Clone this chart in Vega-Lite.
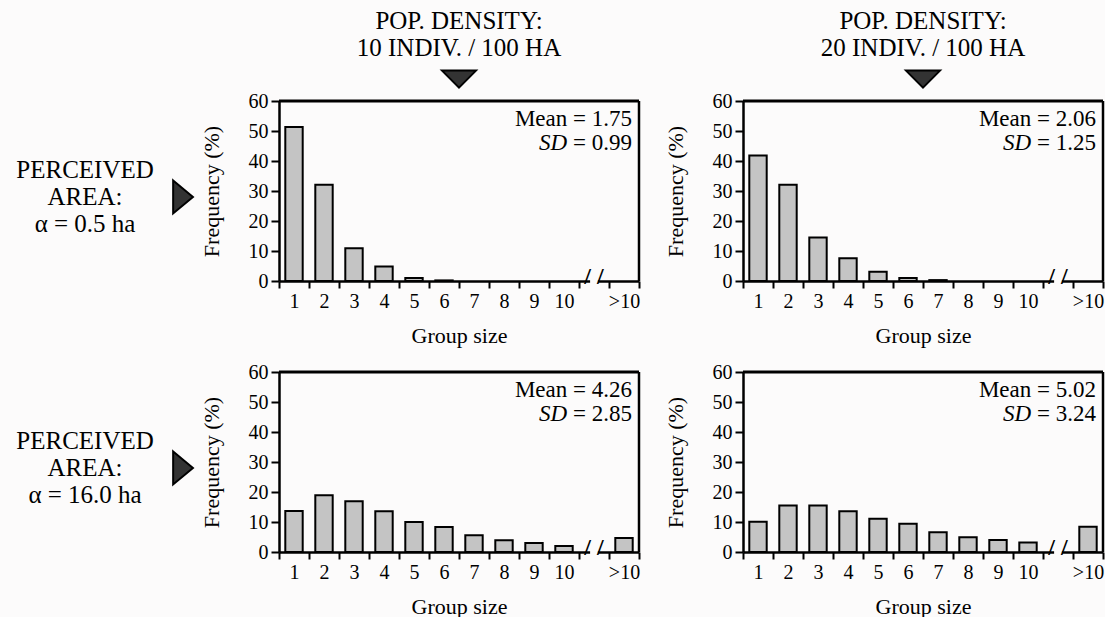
{
  "$schema": "https://vega.github.io/schema/vega-lite/v6.json",
  "background": "#fcfbfb",
  "padding": {"left": 0, "top": 8, "right": 0, "bottom": 0},
  "datasets": {
    "bars": [
      {"panel": "A", "size": "1", "freq": 51.3},
      {"panel": "A", "size": "2", "freq": 32.1},
      {"panel": "A", "size": "3", "freq": 10.9},
      {"panel": "A", "size": "4", "freq": 4.8},
      {"panel": "A", "size": "5", "freq": 1.0},
      {"panel": "A", "size": "6", "freq": 0.2},
      {"panel": "B", "size": "1", "freq": 41.8},
      {"panel": "B", "size": "2", "freq": 32.1},
      {"panel": "B", "size": "3", "freq": 14.5},
      {"panel": "B", "size": "4", "freq": 7.6},
      {"panel": "B", "size": "5", "freq": 3.1},
      {"panel": "B", "size": "6", "freq": 1.0},
      {"panel": "B", "size": "7", "freq": 0.3},
      {"panel": "C", "size": "1", "freq": 13.7},
      {"panel": "C", "size": "2", "freq": 18.9},
      {"panel": "C", "size": "3", "freq": 16.9},
      {"panel": "C", "size": "4", "freq": 13.6},
      {"panel": "C", "size": "5", "freq": 10.0},
      {"panel": "C", "size": "6", "freq": 8.3},
      {"panel": "C", "size": "7", "freq": 5.6},
      {"panel": "C", "size": "8", "freq": 3.9},
      {"panel": "C", "size": "9", "freq": 3.0},
      {"panel": "C", "size": "10", "freq": 2.0},
      {"panel": "C", "size": ">10", "freq": 4.7},
      {"panel": "D", "size": "1", "freq": 10.1},
      {"panel": "D", "size": "2", "freq": 15.5},
      {"panel": "D", "size": "3", "freq": 15.5},
      {"panel": "D", "size": "4", "freq": 13.6},
      {"panel": "D", "size": "5", "freq": 11.1},
      {"panel": "D", "size": "6", "freq": 9.4},
      {"panel": "D", "size": "7", "freq": 6.6},
      {"panel": "D", "size": "8", "freq": 4.9},
      {"panel": "D", "size": "9", "freq": 4.0},
      {"panel": "D", "size": "10", "freq": 3.2},
      {"panel": "D", "size": ">10", "freq": 8.4}
    ],
    "stats": [
      {"panel": "A", "mean": "Mean = 1.75", "sd": "= 0.99"},
      {"panel": "B", "mean": "Mean = 2.06", "sd": "= 1.25"},
      {"panel": "C", "mean": "Mean = 4.26", "sd": "= 2.85"},
      {"panel": "D", "mean": "Mean = 5.02", "sd": "= 3.24"}
    ],
    "rowlabels": [
      {"row": 1, "label": "PERCEIVED\nAREA:\nα = 0.5 ha"},
      {"row": 2, "label": "PERCEIVED\nAREA:\nα = 16.0 ha"}
    ]
  },
  "bounds": "flush",
  "columns": 3,
  "spacing": {"row": 91, "column": 104},
  "concat": [
    {
      "width": 175, "height": 180,
      "data": {"name": "rowlabels"},
      "transform": [{"filter": "datum.row === 1"}],
      "layer": [
        {"mark": {"type": "text", "lineBreak": "\n", "fontSize": 25, "lineHeight": 27, "align": "center", "baseline": "middle", "color": "black"},
         "encoding": {"x": {"datum": 0.486, "type": "quantitative", "scale": {"domain": [0, 1]}, "axis": null},
                      "y": {"datum": 0.617, "type": "quantitative", "scale": {"domain": [0, 1]}, "axis": null},
                      "text": {"field": "label"}}},
        {"mark": {"type": "point", "shape": "M -0.6 -1 L 0.6 0 L -0.6 1 Z", "filled": true, "fill": "#333", "stroke": "black", "strokeWidth": 2, "size": 1089, "opacity": 1},
         "encoding": {"x": {"datum": 1.046, "type": "quantitative"}, "y": {"datum": 0.467, "type": "quantitative"}}}
      ]
    },
    {
      "width": 360, "height": 180,
      "title": {"text": ["POP. DENSITY:", "10 INDIV. / 100 HA"]},
      "layer": [
        {"data": {"name": "bars"}, "transform": [{"filter": "datum.panel === 'A'"}],
         "mark": {"type": "bar", "width": {"band": 0.58}, "fill": "#c4c4c4", "stroke": "black", "strokeWidth": 2},
         "encoding": {
           "x": {"field": "size", "type": "ordinal", "title": "Group size", "scale": {"domain": ["1","2","3","4","5","6","7","8","9","10","gap",">10"], "paddingInner": 0, "paddingOuter": 0}, "axis": {"tickBand": "extent", "labelExpr": "datum.value === 'gap' ? '' : datum.value"}},
           "y": {"field": "freq", "type": "quantitative", "title": "Frequency (%)", "scale": {"domain": [0, 60]}, "axis": {"values": [0,10,20,30,40,50,60], "labelOverlap": false}}}},
        {"data": {"values": [{}]}, "mark": {"type": "bar", "width": {"band": 0.26}, "fill": "#fcfbfb"},
         "encoding": {"x": {"datum": "gap", "type": "ordinal"}, "y": {"datum": -1.4, "type": "quantitative", "axis": {"values": [0,10,20,30,40,50,60], "labelOverlap": false}}, "y2": {"datum": 1.4}}},
        {"data": {"values": [{}]}, "mark": {"type": "text", "text": "/ /", "fontSize": 24, "fontWeight": "bold", "baseline": "middle", "color": "black"},
         "encoding": {"x": {"datum": "gap", "type": "ordinal"}, "y": {"datum": 1.3, "type": "quantitative", "axis": {"values": [0,10,20,30,40,50,60], "labelOverlap": false}}}},
        {"data": {"values": [{}]}, "mark": {"type": "rule", "strokeWidth": 3, "color": "black"},
         "encoding": {"y": {"datum": 60, "type": "quantitative", "axis": {"values": [0,10,20,30,40,50,60], "labelOverlap": false}}}},
        {"data": {"values": [{}]}, "mark": {"type": "rule", "strokeWidth": 2.5, "color": "black"},
         "encoding": {"x": {"datum": ">10", "type": "ordinal", "bandPosition": 1}}},
        {"data": {"name": "stats"}, "transform": [{"filter": "datum.panel === 'A'"}],
         "mark": {"type": "text", "align": "right", "baseline": "middle", "fontSize": 23, "dx": -7, "color": "black"},
         "encoding": {"x": {"datum": ">10", "type": "ordinal", "bandPosition": 1}, "y": {"datum": 54, "type": "quantitative", "axis": {"values": [0,10,20,30,40,50,60], "labelOverlap": false}}, "text": {"field": "mean"}}},
        {"data": {"name": "stats"}, "transform": [{"filter": "datum.panel === 'A'"}],
         "mark": {"type": "text", "align": "right", "baseline": "middle", "fontSize": 23, "dx": -7, "color": "black"},
         "encoding": {"x": {"datum": ">10", "type": "ordinal", "bandPosition": 1}, "y": {"datum": 46, "type": "quantitative", "axis": {"values": [0,10,20,30,40,50,60], "labelOverlap": false}}, "text": {"field": "sd"}}},
        {"data": {"name": "stats"}, "transform": [{"filter": "datum.panel === 'A'"}],
         "mark": {"type": "text", "text": "SD", "fontStyle": "italic", "align": "right", "baseline": "middle", "fontSize": 23, "dx": -72, "color": "black"},
         "encoding": {"x": {"datum": ">10", "type": "ordinal", "bandPosition": 1}, "y": {"datum": 46, "type": "quantitative", "axis": {"values": [0,10,20,30,40,50,60], "labelOverlap": false}}}},
        {"data": {"values": [{}]},
         "mark": {"type": "point", "shape": "M -1 -0.5 L 1 -0.5 L 0 0.5 Z", "filled": true, "fill": "#333", "stroke": "black", "strokeWidth": 2, "size": 1156, "opacity": 1},
         "encoding": {"x": {"datum": "7", "type": "ordinal", "bandPosition": 0}, "y": {"datum": 67.3, "type": "quantitative", "axis": {"values": [0,10,20,30,40,50,60], "labelOverlap": false}}}}
      ]
    },
    {
      "width": 360, "height": 180,
      "title": {"text": ["POP. DENSITY:", "20 INDIV. / 100 HA"]},
      "layer": [
        {"data": {"name": "bars"}, "transform": [{"filter": "datum.panel === 'B'"}],
         "mark": {"type": "bar", "width": {"band": 0.58}, "fill": "#c4c4c4", "stroke": "black", "strokeWidth": 2},
         "encoding": {
           "x": {"field": "size", "type": "ordinal", "title": "Group size", "scale": {"domain": ["1","2","3","4","5","6","7","8","9","10","gap",">10"], "paddingInner": 0, "paddingOuter": 0}, "axis": {"tickBand": "extent", "labelExpr": "datum.value === 'gap' ? '' : datum.value"}},
           "y": {"field": "freq", "type": "quantitative", "title": "Frequency (%)", "scale": {"domain": [0, 60]}, "axis": {"values": [0,10,20,30,40,50,60], "labelOverlap": false}}}},
        {"data": {"values": [{}]}, "mark": {"type": "bar", "width": {"band": 0.26}, "fill": "#fcfbfb"},
         "encoding": {"x": {"datum": "gap", "type": "ordinal"}, "y": {"datum": -1.4, "type": "quantitative", "axis": {"values": [0,10,20,30,40,50,60], "labelOverlap": false}}, "y2": {"datum": 1.4}}},
        {"data": {"values": [{}]}, "mark": {"type": "text", "text": "/ /", "fontSize": 24, "fontWeight": "bold", "baseline": "middle", "color": "black"},
         "encoding": {"x": {"datum": "gap", "type": "ordinal"}, "y": {"datum": 1.3, "type": "quantitative", "axis": {"values": [0,10,20,30,40,50,60], "labelOverlap": false}}}},
        {"data": {"values": [{}]}, "mark": {"type": "rule", "strokeWidth": 3, "color": "black"},
         "encoding": {"y": {"datum": 60, "type": "quantitative", "axis": {"values": [0,10,20,30,40,50,60], "labelOverlap": false}}}},
        {"data": {"values": [{}]}, "mark": {"type": "rule", "strokeWidth": 2.5, "color": "black"},
         "encoding": {"x": {"datum": ">10", "type": "ordinal", "bandPosition": 1}}},
        {"data": {"name": "stats"}, "transform": [{"filter": "datum.panel === 'B'"}],
         "mark": {"type": "text", "align": "right", "baseline": "middle", "fontSize": 23, "dx": -7, "color": "black"},
         "encoding": {"x": {"datum": ">10", "type": "ordinal", "bandPosition": 1}, "y": {"datum": 54, "type": "quantitative", "axis": {"values": [0,10,20,30,40,50,60], "labelOverlap": false}}, "text": {"field": "mean"}}},
        {"data": {"name": "stats"}, "transform": [{"filter": "datum.panel === 'B'"}],
         "mark": {"type": "text", "align": "right", "baseline": "middle", "fontSize": 23, "dx": -7, "color": "black"},
         "encoding": {"x": {"datum": ">10", "type": "ordinal", "bandPosition": 1}, "y": {"datum": 46, "type": "quantitative", "axis": {"values": [0,10,20,30,40,50,60], "labelOverlap": false}}, "text": {"field": "sd"}}},
        {"data": {"name": "stats"}, "transform": [{"filter": "datum.panel === 'B'"}],
         "mark": {"type": "text", "text": "SD", "fontStyle": "italic", "align": "right", "baseline": "middle", "fontSize": 23, "dx": -72, "color": "black"},
         "encoding": {"x": {"datum": ">10", "type": "ordinal", "bandPosition": 1}, "y": {"datum": 46, "type": "quantitative", "axis": {"values": [0,10,20,30,40,50,60], "labelOverlap": false}}}},
        {"data": {"values": [{}]},
         "mark": {"type": "point", "shape": "M -1 -0.5 L 1 -0.5 L 0 0.5 Z", "filled": true, "fill": "#333", "stroke": "black", "strokeWidth": 2, "size": 1156, "opacity": 1},
         "encoding": {"x": {"datum": "7", "type": "ordinal", "bandPosition": 0}, "y": {"datum": 67.3, "type": "quantitative", "axis": {"values": [0,10,20,30,40,50,60], "labelOverlap": false}}}}
      ]
    },
    {
      "width": 175, "height": 180,
      "data": {"name": "rowlabels"},
      "transform": [{"filter": "datum.row === 2"}],
      "layer": [
        {"mark": {"type": "text", "lineBreak": "\n", "fontSize": 25, "lineHeight": 27, "align": "center", "baseline": "middle", "color": "black"},
         "encoding": {"x": {"datum": 0.486, "type": "quantitative", "scale": {"domain": [0, 1]}, "axis": null},
                      "y": {"datum": 0.617, "type": "quantitative", "scale": {"domain": [0, 1]}, "axis": null},
                      "text": {"field": "label"}}},
        {"mark": {"type": "point", "shape": "M -0.6 -1 L 0.6 0 L -0.6 1 Z", "filled": true, "fill": "#333", "stroke": "black", "strokeWidth": 2, "size": 1089, "opacity": 1},
         "encoding": {"x": {"datum": 1.046, "type": "quantitative"}, "y": {"datum": 0.467, "type": "quantitative"}}}
      ]
    },
    {
      "width": 360, "height": 180,
      "layer": [
        {"data": {"name": "bars"}, "transform": [{"filter": "datum.panel === 'C'"}],
         "mark": {"type": "bar", "width": {"band": 0.58}, "fill": "#c4c4c4", "stroke": "black", "strokeWidth": 2},
         "encoding": {
           "x": {"field": "size", "type": "ordinal", "title": "Group size", "scale": {"domain": ["1","2","3","4","5","6","7","8","9","10","gap",">10"], "paddingInner": 0, "paddingOuter": 0}, "axis": {"tickBand": "extent", "labelExpr": "datum.value === 'gap' ? '' : datum.value"}},
           "y": {"field": "freq", "type": "quantitative", "title": "Frequency (%)", "scale": {"domain": [0, 60]}, "axis": {"values": [0,10,20,30,40,50,60], "labelOverlap": false}}}},
        {"data": {"values": [{}]}, "mark": {"type": "bar", "width": {"band": 0.26}, "fill": "#fcfbfb"},
         "encoding": {"x": {"datum": "gap", "type": "ordinal"}, "y": {"datum": -1.4, "type": "quantitative", "axis": {"values": [0,10,20,30,40,50,60], "labelOverlap": false}}, "y2": {"datum": 1.4}}},
        {"data": {"values": [{}]}, "mark": {"type": "text", "text": "/ /", "fontSize": 24, "fontWeight": "bold", "baseline": "middle", "color": "black"},
         "encoding": {"x": {"datum": "gap", "type": "ordinal"}, "y": {"datum": 1.3, "type": "quantitative", "axis": {"values": [0,10,20,30,40,50,60], "labelOverlap": false}}}},
        {"data": {"values": [{}]}, "mark": {"type": "rule", "strokeWidth": 3, "color": "black"},
         "encoding": {"y": {"datum": 60, "type": "quantitative", "axis": {"values": [0,10,20,30,40,50,60], "labelOverlap": false}}}},
        {"data": {"values": [{}]}, "mark": {"type": "rule", "strokeWidth": 2.5, "color": "black"},
         "encoding": {"x": {"datum": ">10", "type": "ordinal", "bandPosition": 1}}},
        {"data": {"name": "stats"}, "transform": [{"filter": "datum.panel === 'C'"}],
         "mark": {"type": "text", "align": "right", "baseline": "middle", "fontSize": 23, "dx": -7, "color": "black"},
         "encoding": {"x": {"datum": ">10", "type": "ordinal", "bandPosition": 1}, "y": {"datum": 54, "type": "quantitative", "axis": {"values": [0,10,20,30,40,50,60], "labelOverlap": false}}, "text": {"field": "mean"}}},
        {"data": {"name": "stats"}, "transform": [{"filter": "datum.panel === 'C'"}],
         "mark": {"type": "text", "align": "right", "baseline": "middle", "fontSize": 23, "dx": -7, "color": "black"},
         "encoding": {"x": {"datum": ">10", "type": "ordinal", "bandPosition": 1}, "y": {"datum": 46, "type": "quantitative", "axis": {"values": [0,10,20,30,40,50,60], "labelOverlap": false}}, "text": {"field": "sd"}}},
        {"data": {"name": "stats"}, "transform": [{"filter": "datum.panel === 'C'"}],
         "mark": {"type": "text", "text": "SD", "fontStyle": "italic", "align": "right", "baseline": "middle", "fontSize": 23, "dx": -72, "color": "black"},
         "encoding": {"x": {"datum": ">10", "type": "ordinal", "bandPosition": 1}, "y": {"datum": 46, "type": "quantitative", "axis": {"values": [0,10,20,30,40,50,60], "labelOverlap": false}}}}
      ]
    },
    {
      "width": 360, "height": 180,
      "layer": [
        {"data": {"name": "bars"}, "transform": [{"filter": "datum.panel === 'D'"}],
         "mark": {"type": "bar", "width": {"band": 0.58}, "fill": "#c4c4c4", "stroke": "black", "strokeWidth": 2},
         "encoding": {
           "x": {"field": "size", "type": "ordinal", "title": "Group size", "scale": {"domain": ["1","2","3","4","5","6","7","8","9","10","gap",">10"], "paddingInner": 0, "paddingOuter": 0}, "axis": {"tickBand": "extent", "labelExpr": "datum.value === 'gap' ? '' : datum.value"}},
           "y": {"field": "freq", "type": "quantitative", "title": "Frequency (%)", "scale": {"domain": [0, 60]}, "axis": {"values": [0,10,20,30,40,50,60], "labelOverlap": false}}}},
        {"data": {"values": [{}]}, "mark": {"type": "bar", "width": {"band": 0.26}, "fill": "#fcfbfb"},
         "encoding": {"x": {"datum": "gap", "type": "ordinal"}, "y": {"datum": -1.4, "type": "quantitative", "axis": {"values": [0,10,20,30,40,50,60], "labelOverlap": false}}, "y2": {"datum": 1.4}}},
        {"data": {"values": [{}]}, "mark": {"type": "text", "text": "/ /", "fontSize": 24, "fontWeight": "bold", "baseline": "middle", "color": "black"},
         "encoding": {"x": {"datum": "gap", "type": "ordinal"}, "y": {"datum": 1.3, "type": "quantitative", "axis": {"values": [0,10,20,30,40,50,60], "labelOverlap": false}}}},
        {"data": {"values": [{}]}, "mark": {"type": "rule", "strokeWidth": 3, "color": "black"},
         "encoding": {"y": {"datum": 60, "type": "quantitative", "axis": {"values": [0,10,20,30,40,50,60], "labelOverlap": false}}}},
        {"data": {"values": [{}]}, "mark": {"type": "rule", "strokeWidth": 2.5, "color": "black"},
         "encoding": {"x": {"datum": ">10", "type": "ordinal", "bandPosition": 1}}},
        {"data": {"name": "stats"}, "transform": [{"filter": "datum.panel === 'D'"}],
         "mark": {"type": "text", "align": "right", "baseline": "middle", "fontSize": 23, "dx": -7, "color": "black"},
         "encoding": {"x": {"datum": ">10", "type": "ordinal", "bandPosition": 1}, "y": {"datum": 54, "type": "quantitative", "axis": {"values": [0,10,20,30,40,50,60], "labelOverlap": false}}, "text": {"field": "mean"}}},
        {"data": {"name": "stats"}, "transform": [{"filter": "datum.panel === 'D'"}],
         "mark": {"type": "text", "align": "right", "baseline": "middle", "fontSize": 23, "dx": -7, "color": "black"},
         "encoding": {"x": {"datum": ">10", "type": "ordinal", "bandPosition": 1}, "y": {"datum": 46, "type": "quantitative", "axis": {"values": [0,10,20,30,40,50,60], "labelOverlap": false}}, "text": {"field": "sd"}}},
        {"data": {"name": "stats"}, "transform": [{"filter": "datum.panel === 'D'"}],
         "mark": {"type": "text", "text": "SD", "fontStyle": "italic", "align": "right", "baseline": "middle", "fontSize": 23, "dx": -72, "color": "black"},
         "encoding": {"x": {"datum": ">10", "type": "ordinal", "bandPosition": 1}, "y": {"datum": 46, "type": "quantitative", "axis": {"values": [0,10,20,30,40,50,60], "labelOverlap": false}}}}
      ]
    }
  ],
  "config": {
    "font": "Liberation Serif",
    "view": {"stroke": null},
    "axis": {"domainColor": "black", "tickColor": "black", "labelColor": "black", "titleColor": "black", "grid": false, "ticks": true, "titleFontWeight": "normal", "domainWidth": 2.5, "tickWidth": 2, "labelFont": "Liberation Serif", "titleFont": "Liberation Serif"},
    "axisX": {"labelAngle": 0, "tickSize": 7, "tickBand": "extent", "labelFontSize": 20, "labelPadding": 3, "titleFontSize": 22, "titlePadding": 14},
    "axisY": {"tickSize": 8, "labelOverlap": false, "labelFontSize": 20, "labelPadding": 3, "titleFontSize": 22, "titlePadding": 25},
    "title": {"fontWeight": "normal", "fontSize": 25, "color": "black", "font": "Liberation Serif", "lineHeight": 27, "frame": "group", "anchor": "middle", "offset": 6}
  }
}
